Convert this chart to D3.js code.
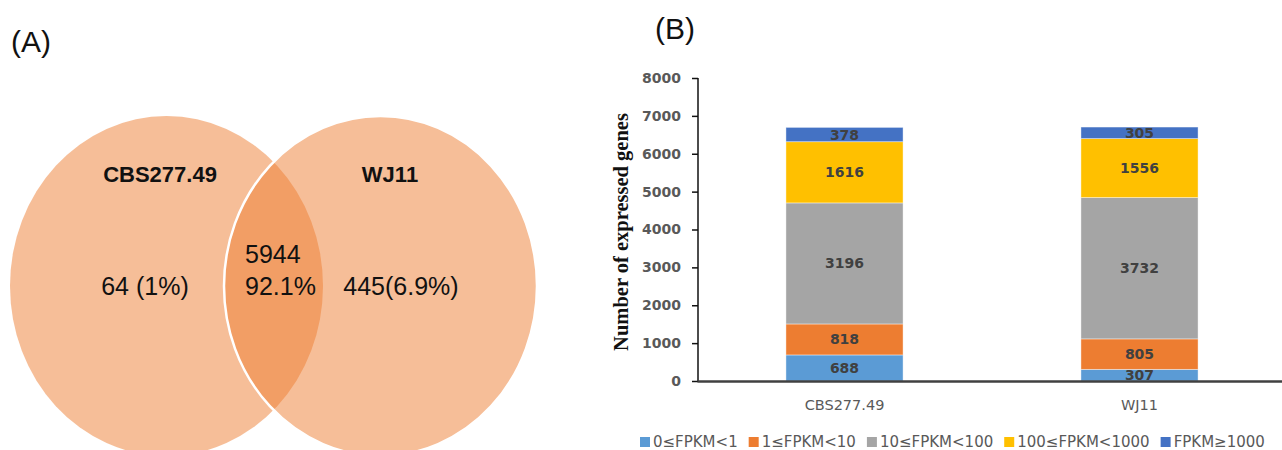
<!DOCTYPE html>
<html>
<head>
<meta charset="utf-8">
<script src="https://cdn.jsdelivr.net/npm/d3@7/dist/d3.min.js"></script>
<style>
  html, body { margin: 0; padding: 0; background: #fff; }
  svg { display: block; }
</style>
</head>
<body>
<svg id="chart" width="1282" height="450"></svg>
<script>
// ---------- DATA ----------
const vennSets = ["CBS277.49", "WJ11"];
const vennOnlyLabels = ["64 (1%)", "445(6.9%)"];
const vennShared = ["5944", "92.1%"];

const categories = ["CBS277.49", "WJ11"];
const seriesNames = ["0≤FPKM<1", "1≤FPKM<10", "10≤FPKM<100", "100≤FPKM<1000", "FPKM≥1000"];
const seriesColors = ["#5B9BD5", "#ED7D31", "#A5A5A5", "#FFC000", "#4472C4"];
const valuesCBS = [688, 818, 3196, 1616, 378];
const valuesWJ11 = [307, 805, 3732, 1556, 305];
const yTicks = [0, 1000, 2000, 3000, 4000, 5000, 6000, 7000, 8000];
const yTitle = "Number of expressed genes";

// ---------- SETUP ----------
const svg = d3.select("#chart");

// ---------- PANEL A: VENN ----------
const gA = svg.append("g");
gA.append("text").attr("x", 11).attr("y", 52)
  .attr("font-family", "Liberation Sans, Arial, sans-serif")
  .attr("font-size", 30).attr("fill", "#111").text("(A)");

const vennLayout = [
  { cx: 166.5, cy: 286, rx: 156.5, ry: 170 },
  { cx: 380.5, cy: 286, rx: 156.5, ry: 170 }
];
gA.append("ellipse").datum(vennLayout[0])
  .attr("cx", d => d.cx).attr("cy", d => d.cy).attr("rx", d => d.rx).attr("ry", d => d.ry)
  .attr("fill", "#ED7D31").attr("fill-opacity", 0.5);
gA.append("ellipse").datum(vennLayout[1])
  .attr("cx", d => d.cx).attr("cy", d => d.cy).attr("rx", d => d.rx).attr("ry", d => d.ry)
  .attr("fill", "#ED7D31").attr("fill-opacity", 0.5)
  .attr("stroke", "#fff").attr("stroke-width", 2.5);

const vFont = "Liberation Sans, Arial, sans-serif";
const nameX = [160, 390];
vennSets.forEach((s, i) => {
  gA.append("text").attr("x", nameX[i]).attr("y", 182).attr("text-anchor", "middle")
    .attr("font-family", vFont).attr("font-weight", "bold").attr("font-size", 22)
    .attr("fill", "#111").text(s);
});
const onlyX = [145, 401];
vennOnlyLabels.forEach((s, i) => {
  gA.append("text").attr("x", onlyX[i]).attr("y", 295).attr("text-anchor", "middle")
    .attr("font-family", vFont).attr("font-size", 25).attr("fill", "#111").text(s);
});
vennShared.forEach((s, i) => {
  gA.append("text").attr("x", 245).attr("y", i === 0 ? 263 : 295)
    .attr("font-family", vFont).attr("font-size", 25).attr("fill", "#111").text(s);
});

// ---------- PANEL B: STACKED BAR ----------
const gB = svg.append("g");
gB.append("text").attr("x", 655).attr("y", 39)
  .attr("font-family", "Liberation Sans, Arial, sans-serif")
  .attr("font-size", 30).attr("fill", "#111").text("(B)");

const x = d3.scaleBand().domain(categories).range([697, 1287])
  .paddingInner(0.603).paddingOuter(0.3015);
const y = d3.scaleLinear().domain([0, 8000]).range([381, 78]);

const table = categories.map((c, i) => {
  const vals = i === 0 ? valuesCBS : valuesWJ11;
  const o = { cat: c };
  seriesNames.forEach((s, j) => o[s] = vals[j]);
  return o;
});
const stack = d3.stack().keys(seriesNames)(table);

const layers = gB.selectAll("g.layer").data(stack).enter().append("g")
  .attr("class", "layer").attr("fill", (d, i) => seriesColors[i]);
layers.selectAll("rect").data(d => d).enter().append("rect")
  .attr("x", d => x(d.data.cat)).attr("width", x.bandwidth())
  .attr("y", d => y(d[1])).attr("height", d => y(d[0]) - y(d[1]))
  .attr("stroke", "#fff").attr("stroke-opacity", 0.5).attr("stroke-width", 0.8);

layers.selectAll("text").data(d => d.map(v => ({ v, key: d.key }))).enter().append("text")
  .attr("x", d => x(d.v.data.cat) + x.bandwidth() / 2)
  .attr("y", d => (y(d.v[0]) + y(d.v[1])) / 2 + 5)
  .attr("text-anchor", "middle")
  .attr("font-family", "DejaVu Sans, sans-serif").attr("font-weight", "bold")
  .attr("font-size", 14).attr("fill", "#404040")
  .text(d => d.v.data[d.key]);

// Y axis
const yAxis = gB.append("g").attr("transform", "translate(698,0)")
  .call(d3.axisLeft(y).tickValues(yTicks).tickSize(6).tickPadding(11).tickFormat(d3.format("d")));
yAxis.select(".domain").attr("stroke", "#111").attr("stroke-width", 1.5).attr("d", "M0,78V381");
yAxis.selectAll(".tick line").attr("stroke", "#111").attr("stroke-width", 1.5);
yAxis.selectAll(".tick text").attr("font-family", "DejaVu Sans, sans-serif")
  .attr("font-weight", "bold").attr("font-size", 14).attr("fill", "#595959");

// X axis
const xAxis = gB.append("g").attr("transform", "translate(0,381)")
  .call(d3.axisBottom(x).tickSize(0).tickPadding(19));
xAxis.select(".domain").attr("stroke", "#404040").attr("stroke-width", 2.5);
xAxis.selectAll(".tick text").attr("font-family", "DejaVu Sans, sans-serif")
  .attr("font-size", 14.5).attr("fill", "#595959");

// Y title
gB.append("text").attr("transform", "translate(628,232) rotate(-90)")
  .attr("text-anchor", "middle")
  .attr("font-family", "Liberation Serif, Times New Roman, serif")
  .attr("font-weight", "bold").attr("font-size", 20.5).attr("fill", "#111")
  .text(yTitle);

// Legend
const leg = gB.append("g");
let lx = 640;
seriesNames.forEach((s, i) => {
  leg.append("rect").attr("x", lx).attr("y", 437).attr("width", 10).attr("height", 10)
    .attr("fill", seriesColors[i]);
  const t = leg.append("text").attr("x", lx + 13).attr("y", 447)
    .attr("font-family", "DejaVu Sans, sans-serif").attr("font-size", 15)
    .attr("fill", "#595959").text(s);
  lx += 13 + t.node().getComputedTextLength() + 11;
});
</script>
</body>
</html>
